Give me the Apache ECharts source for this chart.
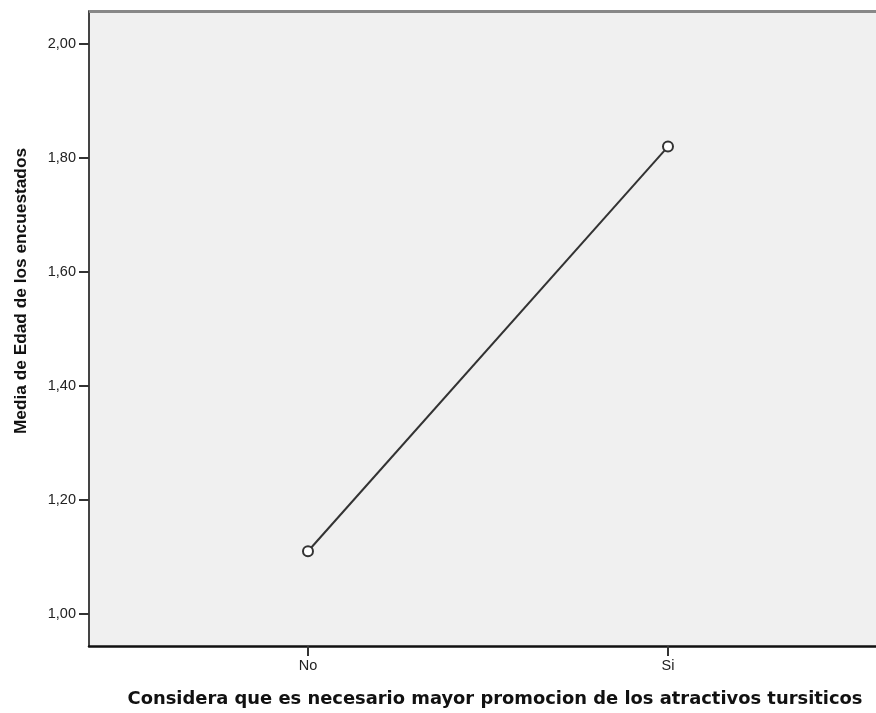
<!DOCTYPE html>
<html><head><meta charset="utf-8">
<script src="https://cdn.jsdelivr.net/npm/echarts@6/dist/echarts.min.js"></script>
<style>html,body{margin:0;padding:0;background:#fff}#c{width:876px;height:713px}</style>
</head><body><div id="c"></div>
<script>
const categories = ['No', 'Si'];
const means = [1.11, 1.82];
const yTicks = [1.0, 1.2, 1.4, 1.6, 1.8, 2.0];
const yTitle = 'Media de Edad de los encuestados';
const xTitle = 'Considera que es necesario mayor promocion de los atractivos tursiticos';

const chart = echarts.init(document.getElementById('c'), null, {renderer: 'canvas'});
const catIdx = categories.map((c, i) => i);
chart.setOption({
  animation: false,
  backgroundColor: '#ffffff',
  grid: {left: 89, top: 11, right: 0, bottom: 67, show: true, backgroundColor: '#f0f0f0', borderWidth: 0},
  xAxis: {
    type: 'value', min: -0.6083, max: 1.5778,
    axisLine: {show: true, onZero: false, lineStyle: {color: '#111', width: 2.5}},
    axisTick: {show: true, length: 10, lineStyle: {color: '#333', width: 2}, customValues: catIdx},
    axisLabel: {customValues: catIdx, formatter: v => categories[Math.round(v)] || '', color: '#222', fontFamily: '"Liberation Sans", Arial', fontSize: 14.5, margin: 12},
    splitLine: {show: false}
  },
  yAxis: {
    type: 'value', min: 0.9438, max: 2.0579,
    axisLine: {show: true, onZero: false, lineStyle: {color: '#444', width: 2}},
    axisTick: {show: true, length: 10, lineStyle: {color: '#333', width: 2}, customValues: yTicks},
    axisLabel: {customValues: yTicks, formatter: v => v.toFixed(2).replace('.', ','), color: '#222', fontFamily: '"Liberation Sans", Arial', fontSize: 14.5, margin: 13},
    splitLine: {show: false}
  },
  series: [{
    type: 'line',
    data: catIdx.map(i => [i, means[i]]),
    symbol: 'emptyCircle', symbolSize: 10,
    lineStyle: {color: '#333', width: 2},
    itemStyle: {color: '#333', borderColor: '#333', borderWidth: 1.5},
    z: 3
  }],
  graphic: [
    {type: 'rect', left: 89, top: 10, shape: {width: 800, height: 3}, style: {fill: '#888'}, z: 10},
    {type: 'text', x: 21, y: 291, rotation: Math.PI / 2, style: {text: yTitle, font: 'bold 17.3px "Liberation Sans", Arial', fill: '#111', align: 'center', verticalAlign: 'middle'}},
    {type: 'text', x: 495, y: 699, style: {text: xTitle, font: 'bold 17.9px "DejaVu Sans"', fill: '#111', align: 'center', verticalAlign: 'middle'}}
  ]
});
</script></body></html>
